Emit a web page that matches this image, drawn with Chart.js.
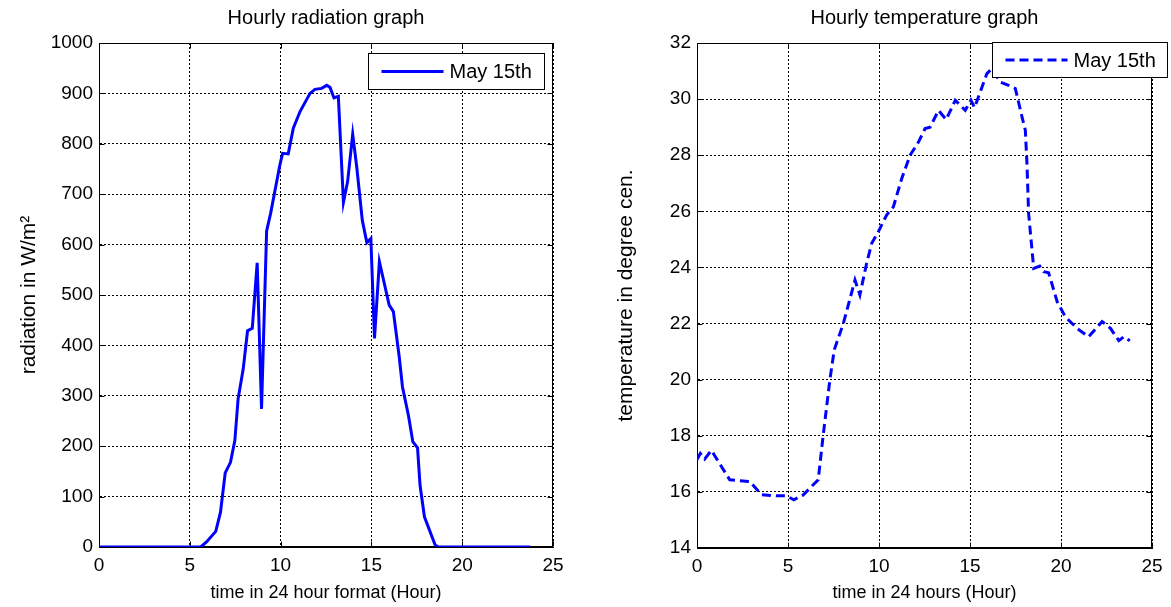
<!DOCTYPE html>
<html>
<head>
<meta charset="utf-8">
<script src="https://cdn.jsdelivr.net/npm/chart.js@4"></script>
<style>
  html, body { margin: 0; padding: 0; background: #fff; }
  #wrap { position: relative; width: 1171px; height: 607px; }
  canvas { position: absolute; top: 0; }
  #radChart { left: 0; }
  #tempChart { left: 585px; }
</style>
</head>
<body>
<div id="wrap">
  <canvas id="radChart" width="585" height="607"></canvas>
  <canvas id="tempChart" width="586" height="607"></canvas>
</div>
<script>
// radiation, May 15th (hour of day -> W/m2)
const radHours = [0, 5.6, 5.92, 6.43, 6.69, 6.95, 7.24, 7.48, 7.66, 7.94, 8.18, 8.44, 8.71, 8.95, 9.23, 9.45,
  9.96, 10.11, 10.42, 10.70, 11.07, 11.62, 11.89, 12.26, 12.54, 12.72, 12.94, 13.18, 13.46, 13.69, 13.97,
  14.19, 14.50, 14.75, 14.97, 15.17, 15.44, 15.98, 16.21, 16.53, 16.71, 17.04, 17.28, 17.54, 17.68, 17.92,
  18.51, 18.7, 23.75];
const radValues = [0, 0, 10, 31, 69, 147, 168, 211, 294, 353, 429, 434, 564, 274, 627, 662,
  758, 781, 780, 831, 864, 900, 908, 910, 916, 912, 891, 894, 684, 725, 819,
  755, 648, 604, 612, 414, 566, 480, 467, 378, 318, 261, 209, 197, 122, 60,
  4, 0, 0];

// temperature, May 15th (hour of day -> degree C)
const tempHours = [0, 0.18, 0.42, 0.79, 1.8, 2.9, 3.54, 4.36, 4.91, 5.32, 5.82, 6.66, 6.93, 7.3, 7.54, 8.04,
  8.68, 8.95, 9.32, 9.6, 9.96, 10.42, 10.79, 11.25, 11.71, 12.17, 12.53, 12.81, 13.27, 13.69, 14.19, 14.74,
  15.05, 15.25, 15.93, 16.2, 16.66, 17.12, 17.49, 17.86, 18.04, 18.13, 18.22, 18.5, 18.83, 19.05, 19.32,
  19.79, 20.24, 20.88, 21.52, 22.26, 22.72, 23.18, 23.45, 23.78];
const tempValues = [17.15, 17.37, 17.17, 17.48, 16.43, 16.37, 15.9, 15.86, 15.86, 15.72, 15.88, 16.43, 18.0, 19.99, 21.06, 22.0,
  23.55, 23.02, 24.15, 24.86, 25.27, 25.87, 26.16, 27.17, 28.0, 28.47, 28.95, 29.0, 29.6, 29.27, 29.96, 29.6,
  29.96, 29.7, 30.91, 31.09, 30.61, 30.49, 30.38, 29.36, 28.89, 27.7, 25.93, 23.97, 24.05, 23.85, 23.81,
  22.78, 22.24, 21.83, 21.53, 22.07, 21.83, 21.39, 21.53, 21.39];

const hourRange = [0, 25];
const radRange = [0, 1000];
const tempRange = [14, 32];

const FONT = '"Liberation Sans", Arial, sans-serif';
const BLUE = '#0000ff';

function toPoints(xs, ys) {
  return xs.map((x, i) => ({ x: x, y: ys[i] }));
}

// box round the plot with small inward ticks on all four sides
const framePlugin = {
  id: 'frame',
  beforeDatasetsDraw(chart) {
    const { ctx, chartArea: a, scales } = chart;
    const L = Math.round(a.left) + 0.5, R = Math.round(a.right) - 0.5;
    const T = Math.round(a.top) + 0.5, B = Math.round(a.bottom) - 0.5;
    ctx.save();
    ctx.strokeStyle = '#000';
    ctx.lineWidth = 1;
    ctx.setLineDash([]);
    ctx.strokeRect(L, T, R - L, B - T);
    ctx.beginPath();
    scales.x.ticks.forEach(t => {
      const px = Math.round(scales.x.getPixelForValue(t.value)) + 0.5;
      ctx.moveTo(px, B); ctx.lineTo(px, B - 5);
      ctx.moveTo(px, T); ctx.lineTo(px, T + 5);
    });
    scales.y.ticks.forEach(t => {
      const py = Math.round(scales.y.getPixelForValue(t.value)) + 0.5;
      ctx.moveTo(L, py); ctx.lineTo(L + 5, py);
      ctx.moveTo(R, py); ctx.lineTo(R - 5, py);
    });
    ctx.stroke();
    ctx.restore();
  }
};

// matlab style legend box
const boxLegendPlugin = {
  id: 'boxLegend',
  afterDatasetsDraw(chart, args, opts) {
    const { ctx, chartArea: a } = chart;
    const ds = chart.data.datasets[0];
    const x = Math.round(a.right + opts.dx - opts.width) + 0.5;
    const y = Math.round(a.top + opts.dy) + 0.5;
    ctx.save();
    ctx.fillStyle = '#fff';
    ctx.fillRect(x, y, opts.width, opts.height);
    ctx.strokeStyle = '#000';
    ctx.lineWidth = 1;
    ctx.strokeRect(x, y, opts.width, opts.height);
    const cy = y + opts.height / 2;
    ctx.beginPath();
    ctx.strokeStyle = ds.borderColor;
    ctx.lineWidth = ds.borderWidth;
    ctx.setLineDash(ds.borderDash || []);
    ctx.moveTo(x + 13, cy);
    ctx.lineTo(x + 75, cy);
    ctx.stroke();
    ctx.setLineDash([]);
    ctx.fillStyle = '#000';
    ctx.font = '20px ' + FONT;
    ctx.textBaseline = 'middle';
    ctx.textAlign = 'left';
    ctx.fillText(ds.label, x + 81, cy + 1);
    ctx.restore();
  }
};

function makeChart(id, cfg) {
  return new Chart(document.getElementById(id), {
    type: 'line',
    data: {
      datasets: [{
        label: 'May 15th',
        data: cfg.points,
        borderColor: BLUE,
        borderWidth: 3,
        borderDash: cfg.dash,
        pointRadius: 0,
        tension: 0,
        fill: false
      }]
    },
    options: {
      responsive: false,
      animation: false,
      layout: { padding: { left: 0, top: 0, right: cfg.padRight, bottom: 0 } },
      plugins: {
        legend: { display: false },
        tooltip: { enabled: false },
        title: {
          display: true,
          text: cfg.title,
          fullSize: false,
          color: '#000',
          font: { family: FONT, size: 20, weight: 'normal' },
          padding: { top: 6, bottom: 13 }
        },
        boxLegend: cfg.legend
      },
      scales: {
        x: {
          type: 'linear',
          min: hourRange[0],
          max: hourRange[1],
          afterFit: s => { s.height = cfg.xHeight; },
          ticks: {
            stepSize: 5, autoSkip: false, maxRotation: 0, padding: 7,
            color: '#000', font: { family: FONT, size: 19 },
            callback: v => String(v)
          },
          grid: { color: '#000', lineWidth: 1, drawTicks: false },
          border: { display: true, color: '#000', dash: [2, 2] },
          title: {
            display: true, text: cfg.xTitle, color: '#000',
            font: { family: FONT, size: 18 }, padding: { top: 0, bottom: 3 }
          }
        },
        y: {
          min: cfg.yRange[0],
          max: cfg.yRange[1],
          afterFit: s => { s.width = cfg.yWidth; },
          ticks: {
            stepSize: cfg.yStep, autoSkip: false, padding: 6,
            color: '#000', font: { family: FONT, size: 19 },
            callback: v => String(v)
          },
          grid: { color: '#000', lineWidth: 1, drawTicks: false },
          border: { display: true, color: '#000', dash: [2, 2] },
          title: {
            display: true, text: cfg.yTitle, color: '#000',
            font: { family: FONT, size: 21 }, padding: { top: cfg.yTitlePad, bottom: 0 }
          }
        }
      }
    },
    plugins: [framePlugin, boxLegendPlugin]
  });
}

makeChart('radChart', {
  points: toPoints(radHours, radValues),
  dash: [],
  title: 'Hourly radiation graph',
  xTitle: 'time in 24 hour format (Hour)',
  yTitle: 'radiation in W/m\u00B2',
  yRange: radRange,
  yStep: 100,
  yWidth: 99,
  yTitlePad: 17,
  xHeight: 60,
  padRight: 32,
  legend: { dx: -9, dy: 10, width: 176, height: 36 }
});

makeChart('tempChart', {
  points: toPoints(tempHours, tempValues),
  dash: [9, 5],
  title: 'Hourly temperature graph',
  xTitle: 'time in 24 hours (Hour)',
  yTitle: 'temperature in degree cen.',
  yRange: tempRange,
  yStep: 2,
  yWidth: 112,
  yTitlePad: 29,
  xHeight: 59,
  padRight: 19,
  legend: { dx: 15, dy: -1, width: 175, height: 35 }
});
</script>
</body>
</html>
